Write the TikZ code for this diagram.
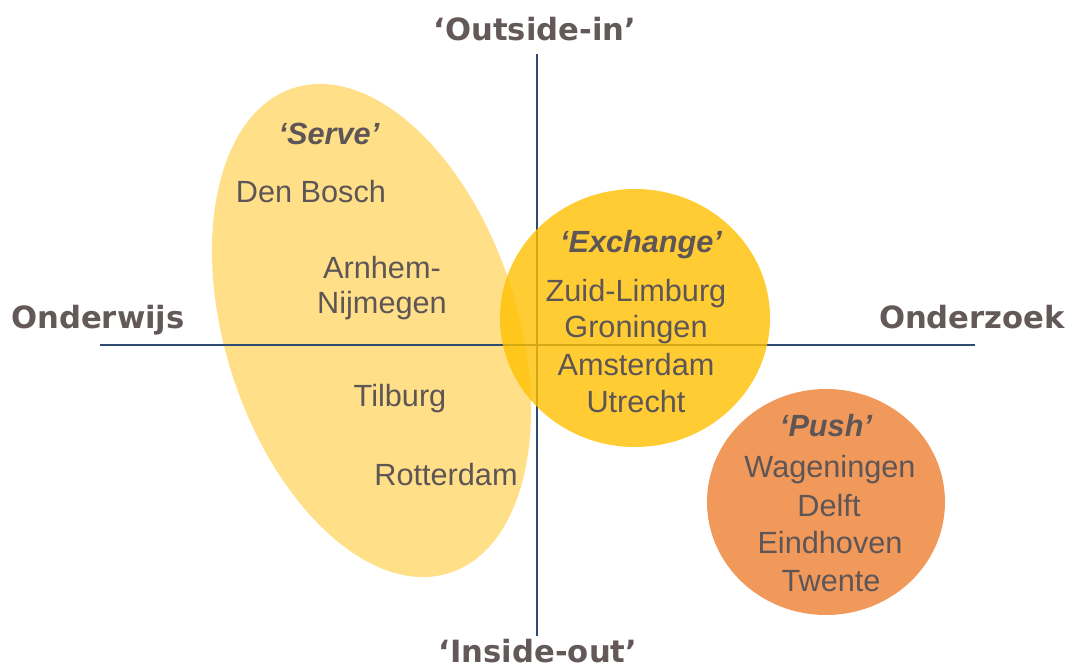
\documentclass[tikz,border=0pt]{standalone}
\usepackage{fontspec}
\setmainfont{Liberation Sans}
\newfontfamily\axisfont{DejaVu Sans}
\definecolor{servefill}{HTML}{FFDF88}
\definecolor{exfill}{HTML}{FFC000}
\definecolor{pushfill}{HTML}{F0995A}
\definecolor{txt}{HTML}{5E5656}
\definecolor{axt}{HTML}{645959}
\definecolor{axline}{HTML}{2E4C72}
\tikzset{
  lbl/.style={font=\fontsize{23}{27}\selectfont, text=txt, anchor=base, inner sep=0pt},
  ttl/.style={lbl, font=\bfseries\itshape\fontsize{23}{27}\selectfont},
  axlbl/.style={font=\axisfont\bfseries\fontsize{23}{27}\selectfont, text=axt, anchor=base, inner sep=0pt},
  axis/.style={draw=axline, line width=0.9pt},
}
\begin{document}
\begin{tikzpicture}[x=0.75pt,y=-0.75pt]
\path[use as bounding box] (0,0) rectangle (1072,670);
% Serve ellipse
\fill[servefill, rotate around={17.86:(371.5,330.5)}] (371.5,330.5) ellipse [x radius=146.1, y radius=254.7];
% axes
\coordinate (vtop) at (537,54);
\coordinate (vbot) at (537,636);
\coordinate (hl) at (100,345);
\coordinate (hr) at (975,345);
\draw[axis] (vtop) -- (vbot);
\draw[axis] (hl) -- (hr);
% Exchange
\fill[exfill, fill opacity=0.8] (635,318) ellipse [x radius=135, y radius=129];
% Push
\fill[pushfill] (826,502) ellipse [x radius=119, y radius=113];
% axis labels
\node[axlbl] (outin) at (535,41) {‘Outside-in’};
\node[axlbl] (inout) at (538,662) {‘Inside-out’};
\node[axlbl] (onderwijs) at (98,329) {Onderwijs};
\node[axlbl] (onderzoek) at (972,329) {Onderzoek};
% Serve
\node[ttl] (serve) at (329,145) {‘Serve’};
\node[lbl] (denbosch) at (311,203) {Den Bosch};
\node[lbl] (arnhem) at (382,279) {Arnhem-};
\node[lbl] (nijmegen) at (382,314) {Nijmegen};
\node[lbl] (tilburg) at (400,407) {Tilburg};
\node[lbl] (rotterdam) at (446,485) {Rotterdam};
% Exchange
\node[ttl] (exchange) at (641,253) {‘Exchange’};
\node[lbl] (zuidlimburg) at (636,302) {Zuid-Limburg};
\node[lbl] (groningen) at (636,338) {Groningen};
\node[lbl] (amsterdam) at (636,376) {Amsterdam};
\node[lbl] (utrecht) at (636,413) {Utrecht};
% Push
\node[ttl] (push) at (826,437) {‘Push’};
\node[lbl] (wageningen) at (830,478) {Wageningen};
\node[lbl] (delft) at (829,517) {Delft};
\node[lbl] (eindhoven) at (830,553) {Eindhoven};
\node[lbl] (twente) at (831,591) {Twente};
\end{tikzpicture}
\end{document}
